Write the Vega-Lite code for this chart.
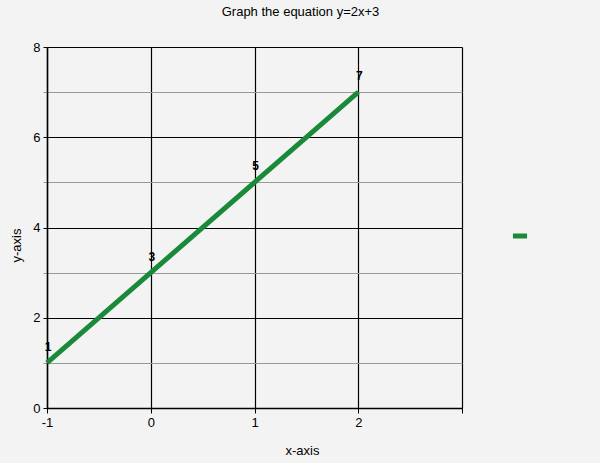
{
  "$schema": "https://vega.github.io/schema/vega-lite/v6.json",
  "autosize": "none",
  "width": 415,
  "height": 361,
  "padding": {"left": 47, "top": 47, "right": 138, "bottom": 55},
  "background": "#f3f3f3",
  "config": {
    "view": {"stroke": null, "fill": "#f3f3f3"},
    "font": "Liberation Sans"
  },
  "title": {
    "text": "Graph the equation y=2x+3",
    "fontSize": 13,
    "fontWeight": "normal",
    "font": "Liberation Sans",
    "color": "#000000",
    "anchor": "middle",
    "dx": 46,
    "offset": 22
  },
  "data": {
    "values": [
      {"x": -1, "y": 1, "series": "y"},
      {"x": 0, "y": 3, "series": "y"},
      {"x": 1, "y": 5, "series": "y"},
      {"x": 2, "y": 7, "series": "y"}
    ]
  },
  "layer": [
    {
      "mark": {"type": "line", "strokeWidth": 5, "clip": false},
      "encoding": {
        "x": {
          "field": "x",
          "type": "quantitative",
          "scale": {"domain": [-1, 3], "nice": false, "zero": false},
          "axis": {
            "title": "x-axis",
            "titleFontWeight": "normal",
            "titleFontSize": 13,
            "titleColor": "#000",
            "titleX": 255,
            "titleY": 36,
            "values": [-1, 0, 1, 2, 3],
            "labelFlush": false,
            "labelExpr": "datum.value == 3 ? '' : (datum.value < 0 ? '-' + abs(datum.value) : '' + datum.value)",
            "labelFontSize": 13,
            "labelColor": "#000",
            "labelPadding": 3,
            "tickColor": "#000",
            "tickSize": 5,
            "domainColor": "#000",
            "domainWidth": 1.5,
            "grid": true,
            "gridColor": "#000",
            "gridWidth": 1.2,
            "gridOpacity": 1
          }
        },
        "y": {
          "field": "y",
          "type": "quantitative",
          "scale": {"domain": [0, 8], "nice": false},
          "axis": {
            "title": "y-axis",
            "titleFontWeight": "normal",
            "titleFontSize": 13,
            "titleColor": "#000",
            "titleX": -24,
            "titleY": 198,
            "values": [0, 1, 2, 3, 4, 5, 6, 7, 8],
            "format": "d",
            "labelFlush": false,
            "labelExpr": "datum.value % 2 == 0 ? datum.label : ''",
            "labelFontSize": 13,
            "labelColor": "#000",
            "labelPadding": 3,
            "tickColor": {"expr": "datum.value % 2 == 0 ? '#000' : '#999'"},
            "tickSize": 4,
            "domainColor": "#000",
            "domainWidth": 1.5,
            "grid": true,
            "gridColor": {"expr": "datum.value % 2 == 0 ? '#000' : '#999'"},
            "gridWidth": 1.2,
            "gridOpacity": 1
          }
        },
        "color": {
          "field": "series",
          "type": "nominal",
          "scale": {"range": ["#1a8a3a"]},
          "legend": {
            "title": null,
            "orient": "none",
            "legendX": 463,
            "legendY": 179,
            "symbolType": "stroke",
            "symbolStrokeWidth": 5,
            "symbolSize": 200,
            "labelExpr": "''"
          }
        }
      }
    },
    {
      "mark": {"type": "text", "fontWeight": "bold", "fontSize": 12, "dy": -16, "dx": 1, "color": "#000"},
      "encoding": {
        "x": {"field": "x", "type": "quantitative"},
        "y": {"field": "y", "type": "quantitative"},
        "text": {"field": "y", "type": "quantitative"}
      }
    }
  ]
}
